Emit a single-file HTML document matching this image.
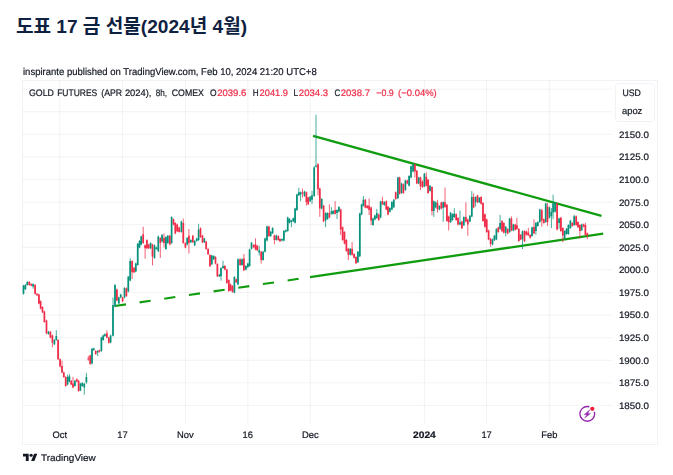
<!DOCTYPE html>
<html lang="ko">
<head>
<meta charset="utf-8">
<title>Gold Futures Chart</title>
<style>
html,body{margin:0;padding:0;background:#fff;}
body{width:673px;height:475px;overflow:hidden;position:relative;font-family:"Liberation Sans",sans-serif;color:#131722;}
.page{position:relative;width:673px;height:475px;overflow:hidden;background:#fff;}
h1{margin:0;padding:0;position:absolute;left:0;top:0;width:673px;height:50px;font-size:0;line-height:0;}
h1 svg{display:block;}
.frame{position:absolute;left:22px;top:80px;width:636px;height:365px;border:1px solid #f0f2f6;box-sizing:border-box;}
svg.chart{position:absolute;left:0;top:0;display:block;will-change:transform;}
.brand{position:absolute;left:22.6px;top:452.3px;height:12px;white-space:nowrap;}
.brand svg{position:absolute;left:0;top:0;}
</style>
</head>
<body>
<div class="page">
<h1><svg class="title" width="673" height="50" viewBox="0 0 673 50" role="img" aria-label="도표 17 금 선물(2024년 4월)"><title>도표 17 금 선물(2024년 4월)</title><text x="15.9" y="32.6" font-size="19.1" font-weight="700" fill="#0f2140" font-family="'Liberation Sans', 'Noto Sans CJK KR', sans-serif" textLength="231.2" lengthAdjust="spacingAndGlyphs">도표 17 금 선물(2024년 4월)</text></svg></h1>
<div class="frame"></div>
<svg class="chart" width="673" height="475" viewBox="0 0 673 475" font-family="'Liberation Sans', sans-serif" stroke-width="0.2" text-rendering="geometricPrecision"><path d="M22.5 89.17H612M22.5 111.76H612M22.5 134.35H612M22.5 156.94H612M22.5 179.53H612M22.5 202.12H612M22.5 224.71H612M22.5 247.3H612M22.5 269.89H612M22.5 292.48H612M22.5 315.07H612M22.5 337.66H612M22.5 360.25H612M22.5 382.84H612M22.5 405.43H612M59.75 80.5V423M122.45 80.5V423M185.4 80.5V423M247.8 80.5V423M310.35 80.5V423M424.4 80.5V423M486.6 80.5V423M549.3 80.5V423" stroke="rgba(40,44,52,0.06)" stroke-width="1" fill="none"/>
<path d="M313.1 135.9L601.5 215.8" stroke="#0f9d0f" stroke-width="2.3" stroke-linecap="butt" fill="none"/>
<path d="M310 277.11L603.2 233.7" stroke="#0f9d0f" stroke-width="2.3" fill="none"/>
<path d="M114.9 306L310 277.11" stroke="#0f9d0f" stroke-width="2.1" stroke-dasharray="11.2 13.74" fill="none"/>
<path d="M23.5 284.8V294.6M25.4 284.1V290.1M27.3 281.1V285.7M33.1 283.3V288.6M48.5 330.9V334.7M54.4 339.1V345.1M56.3 330.2V340.7M67.6 374.8V385.2M69.4 374V382.3M74.9 379.9V386.7M80.4 382.9V391.2M82.3 382.2V386.8M84.3 382.9V394.8M86.4 372.8V383.7M92 348V364.4M93.8 347.7V350.8M97.7 350.2V356M101.4 336.8V351.8M103.2 334.6V340.7M104.9 333.4V336.9M110.6 334.6V343.3M113 297.5V336.5M115 284.1V307.3M118.8 296.7V304.3M120.7 293.8V298.3M124.5 287.1V298.3M128.3 275.9V292.4M130.2 258.2V281.3M135.8 262.6V272.3M137.7 243V265.7M139.5 240.1V248.3M141.2 235.6V245.4M150.6 242.3V249.1M154.5 244.5V258.7M156.4 246.7V249.8M158.3 235.6V252.1M162.1 234.1V242.4M165.9 236.3V249.8M167.8 234.9V243.9M171.6 216.3V243.9M181.4 220.7V232.7M187.2 237.1V245.4M190.9 239.3V243.1M194.7 240.1V246.1M196.7 237.8V241.7M198.6 223.8V240.9M204.3 237.8V243.1M211.8 254.8V265M213.7 255.2V260.1M219.3 274V277.1M221 267.3V280.7M223 260.7V268.9M234.4 276.2V293.4M238 258.4V285.2M242 258.4V265.9M245.9 265.1V270.4M247.8 262.8V268.1M249.6 248.7V266.7M251.5 242V249.6M259.2 245.8V255.5M263.1 250.9V260.7M265 237.6V252.5M267 225.7V241.4M270.7 230.9V236.9M272.6 227.2V234M276.3 234.6V240.7M282 238.3V241.4M283.9 230.1V241.4M285.8 229.4V232.5M287.7 216.7V231.7M289.5 218.2V223.5M291.4 219.7V227.2M293.3 217.5V222.1M295.1 207.8V223.5M296.9 193.7V210.9M298.8 187.8V196.1M300.6 191.5V201.2M304.5 190.7V196.8M310.1 195.9V202M312 190.8V204.2M314.2 166.1V196.8M316 114.7V167.6M321.7 198.2V209.4M325.6 212.3V227.2M327.5 212.3V219.8M331.4 207.1V214.6M333.1 210.1V214.6M337 209.3V219M338.9 206.3V212.4M350.2 248V255.6M357.9 251V263M359.8 212.7V257.1M361.6 203.7V215.3M363.4 196V206.5M373 217.6V225.9M374.9 214.6V220.3M376.8 209V218.8M380.6 200.7V218.3M384.3 201.2V205.8M389.9 207.2V212.5M391.9 201.2V210.2M393.8 199V208M397.9 176.7V199.1M401.5 182.6V193.9M405.4 179.7V190.9M409.1 175.2V186.5M411 165.5V178.3M413 163.6V172.3M418.7 176.7V184.2M424.4 173V187.2M430 184.9V191.7M433.8 200.5V216.9M435.7 201.4V208.3M439.4 205.1V210.3M443.2 201.4V221.8M450.6 211.9V223.1M452.5 213.4V220.9M454.3 208.2V217.9M460 210.5V225.4M463.8 216.3V226.1M469.9 214.9V222.4M471.8 191.1V217.2M475.6 196.3V206.7M479.3 197V203.1M492.5 238.6V245.4M494.4 234.9V241M496.4 228.2V240.2M500.1 214.9V229.8M505.7 226V236.5M509.6 217.8V232.8M513.3 223.8V231.3M522.5 230.4V249M532 226.6V236.8M535.9 222.1V234.8M537.8 221.3V226.7M539.8 208.7V222.9M545.7 202.8V222.9M549.4 206.5V218.5M551.4 208V228.1M553.1 194.7V219.2M555.1 202V212.5M559.1 217.6V228.8M564.6 230.3V239.3M566.5 228V234.8M568.4 224.3V234.8M570.4 219.9V228.9M574.2 214.7V225.9M581.7 223.6V231.1" stroke="#07917b" stroke-width="0.75" fill="none"/>
<path d="M29.3 281.1V285.7M31.2 283.3V286.4M35.1 284.1V294.6M37 293V296.1M38.9 293.7V304.2M40.6 300.4V309.4M42.5 306.3V313.1M44.4 310.8V322.8M46.5 319.7V334.3M50.4 330.9V338.4M52.4 334.6V347.3M58.1 339.1V360M60.1 358.4V367.4M62 360.7V373.3M63.8 371.7V377.8M65.7 376.2V386.7M71.2 379.9V385.2M73 376.8V388.2M76.8 378.4V382.3M78.6 379.9V391.9M88.3 355.8V360.8M90.2 354.7V364.7M95.7 350.2V354.8M99.4 349.5V352.5M106.9 330.2V338.4M108.8 336.8V343.6M116.9 288.6V301.3M122.6 296.7V302.1M126.4 287.5V296.9M132.1 260.3V279M134 267V273.1M143.2 226.7V243.9M145.1 244.5V258.7M146.9 239.3V249.1M148.7 243.8V249.1M152.5 243.8V265.4M160.3 237.1V257.9M164 233.4V247.5M169.8 234.9V245.4M173.5 218.5V225.3M175.3 222.2V234.2M177.2 223.7V232M179.1 226.7V232.7M183.3 218.6V243.8M185.4 242.3V248.3M188.9 229V253.5M192.8 234.9V243.1M200.5 227.4V237.9M202.5 234.9V243.1M206.2 240.8V249.8M208.1 248.2V255M210 254.2V267.1M215.5 256.2V264.3M217.4 263.2V277.1M224.9 265.1V270.4M226.8 268.8V283.8M228.8 279.2V291.9M230.6 283.6V291.2M232.5 285.1V292.7M236.2 278.4V283M240.1 258.4V265.9M243.9 254V271.1M253.6 244.2V248.1M255.5 238.4V250.3M257.3 245V251.1M261.2 250.9V263.6M268.9 225.7V236.9M274.4 234.6V244.3M278.3 235.3V240.7M280 238.3V242.1M302.5 188.6V197.5M306.4 191.5V205.7M308.2 196.7V205M318 163.2V195.3M319.8 187.8V216.8M323.6 204.9V222.1M329.4 204.2V218.3M335.1 201.2V214.6M340.7 208.6V235M342.6 226.5V240.8M344.5 231.2V244.4M346.4 239.1V251.9M348.3 248V260M352.1 242.1V255.6M354.1 253.2V258.5M356 256.2V264M365.3 198.9V208.3M367.2 204.9V208.7M369.1 198.5V215M371.1 206.7V225.1M378.7 213.7V220.8M382.4 196.8V205M386.3 200.5V210.2M388 206V215.4M395.7 191.5V199.8M399.6 176.7V194.6M403.4 183.4V193.9M407.3 179.7V184.2M414.9 163.7V177.5M416.8 170V184.2M420.5 176.7V190.1M422.5 180.4V187.9M426.3 172.3V186.5M428.1 178.9V193.9M432 186.3V215.4M437.5 199.8V212.5M441.3 201.7V209.2M445 187.6V207.8M446.9 203.9V221.8M448.7 215.6V230.5M456.2 213.4V220.9M458 217.1V225.4M461.9 220.8V229.1M465.9 202.3V222.4M467.8 218.6V235.7M473.6 193.4V208.3M477.5 194.8V203.1M481.1 196.3V204.6M483 202.2V221.7M484.9 213.4V227.6M486.7 218.6V232.8M488.6 229.7V240.2M490.6 237.9V246.9M498.3 226.7V232.8M502 220.1V232.1M503.8 222.3V233.5M507.7 228.2V234.3M511.4 216.4V231.3M515.2 223.8V230.6M516.9 217.9V229.8M518.8 228.2V241.7M520.7 234V240.2M524.5 230.3V242M526.4 230.7V235.6M528.3 227.8V236M530.2 234.1V238.6M534 219.3V234.2M541.8 208.8V226.6M543.8 218.4V223.7M547.5 202.8V225.9M557.1 202.8V230.4M560.9 216.9V231.9M562.8 227.3V242.2M572.3 222.1V226.7M576.2 215.4V225.9M578 221.3V228.1M579.9 224.3V238.5M583.6 223.6V227.4M585.4 222.9V235.6M587.3 232.5V239.2" stroke="#ef2b47" stroke-width="0.75" fill="none"/>
<path d="M22.65 285.6h1.7V293.8h-1.7zM24.55 284.9h1.7V289.3h-1.7zM26.45 281.9h1.7V284.9h-1.7zM32.25 284.1h1.7V286.5h-1.7zM47.65 331.7h1.7V333.9h-1.7zM53.55 339.9h1.7V344.3h-1.7zM55.45 336.1h1.7V339.9h-1.7zM66.75 377h1.7V384.4h-1.7zM68.55 376.3h1.7V381.5h-1.7zM74.05 380.7h1.7V385.9h-1.7zM79.55 383.7h1.7V390.4h-1.7zM81.45 383h1.7V386h-1.7zM83.45 383.7h1.7V387.4h-1.7zM85.55 377h1.7V382.2h-1.7zM91.15 348.8h1.7V363.6h-1.7zM92.95 348.5h1.7V350h-1.7zM96.85 351h1.7V352.5h-1.7zM100.55 337.6h1.7V351h-1.7zM102.35 335.4h1.7V339.9h-1.7zM104.05 334.2h1.7V336.1h-1.7zM109.75 335.4h1.7V342.5h-1.7zM112.15 305h1.7V335.7h-1.7zM114.15 284.9h1.7V306.5h-1.7zM117.95 297.5h1.7V303.5h-1.7zM119.85 294.6h1.7V297.5h-1.7zM123.65 287.9h1.7V297.5h-1.7zM127.45 276.7h1.7V291.6h-1.7zM129.35 261.1h1.7V280.5h-1.7zM134.95 263.4h1.7V271.5h-1.7zM136.85 243.8h1.7V264.9h-1.7zM138.65 240.9h1.7V247.5h-1.7zM140.35 236.4h1.7V244.6h-1.7zM149.75 243.1h1.7V248.3h-1.7zM153.65 245.3h1.7V257.9h-1.7zM155.55 247.5h1.7V249h-1.7zM157.45 236.4h1.7V251.3h-1.7zM161.25 234.9h1.7V241.6h-1.7zM165.05 237.1h1.7V249h-1.7zM166.95 235.7h1.7V243.1h-1.7zM170.75 217.1h1.7V243.1h-1.7zM180.55 221.5h1.7V231.9h-1.7zM186.35 237.9h1.7V244.6h-1.7zM190.05 240.1h1.7V242.3h-1.7zM193.85 240.9h1.7V245.3h-1.7zM195.85 238.6h1.7V240.9h-1.7zM197.75 229.7h1.7V240.1h-1.7zM203.45 238.6h1.7V242.3h-1.7zM210.95 255.6h1.7V264.2h-1.7zM212.85 256h1.7V259.3h-1.7zM218.45 274.8h1.7V276.3h-1.7zM220.15 268.1h1.7V276.3h-1.7zM222.15 265.9h1.7V268.1h-1.7zM233.55 277h1.7V292.6h-1.7zM237.15 259.2h1.7V284.4h-1.7zM241.15 259.2h1.7V265.1h-1.7zM245.05 265.9h1.7V269.6h-1.7zM246.95 263.6h1.7V267.3h-1.7zM248.75 249.5h1.7V265.9h-1.7zM250.65 242.8h1.7V248.8h-1.7zM258.35 250.3h1.7V252.5h-1.7zM262.25 251.7h1.7V259.9h-1.7zM264.15 238.4h1.7V251.7h-1.7zM266.15 226.5h1.7V240.6h-1.7zM269.85 231.7h1.7V236.1h-1.7zM271.75 228h1.7V233.2h-1.7zM275.45 235.4h1.7V239.9h-1.7zM281.15 239.1h1.7V240.6h-1.7zM283.05 230.9h1.7V240.6h-1.7zM284.95 230.2h1.7V231.7h-1.7zM286.85 217.5h1.7V230.9h-1.7zM288.65 219h1.7V222.7h-1.7zM290.55 220.5h1.7V222h-1.7zM292.45 218.3h1.7V221.3h-1.7zM294.25 208.6h1.7V222.7h-1.7zM296.05 194.5h1.7V210.1h-1.7zM297.95 192.3h1.7V195.3h-1.7zM299.75 192.3h1.7V194.5h-1.7zM303.65 191.5h1.7V196h-1.7zM309.25 196.7h1.7V201.2h-1.7zM311.15 195.3h1.7V199.7h-1.7zM313.35 167.5h1.7V196h-1.7zM315.15 165.6h1.7V166.8h-1.7zM320.85 199h1.7V208.6h-1.7zM324.75 213.1h1.7V220.5h-1.7zM326.65 213.1h1.7V219h-1.7zM330.55 211.6h1.7V213.8h-1.7zM332.25 210.9h1.7V213.8h-1.7zM336.15 210.1h1.7V213.1h-1.7zM338.05 207.1h1.7V211.6h-1.7zM349.35 248.8h1.7V254.8h-1.7zM357.05 251.8h1.7V262.2h-1.7zM358.95 213.5h1.7V256.3h-1.7zM360.75 204.5h1.7V214.5h-1.7zM362.55 199.7h1.7V205.7h-1.7zM372.15 218.4h1.7V225.1h-1.7zM374.05 215.4h1.7V219.5h-1.7zM375.95 213h1.7V218h-1.7zM379.75 201.5h1.7V217.5h-1.7zM383.45 202h1.7V205h-1.7zM389.05 208h1.7V211.7h-1.7zM391.05 202h1.7V209.4h-1.7zM392.95 199.8h1.7V207.2h-1.7zM397.05 177.5h1.7V198.3h-1.7zM400.65 183.4h1.7V193.1h-1.7zM404.55 180.5h1.7V190.1h-1.7zM408.25 176h1.7V185.7h-1.7zM410.15 166.3h1.7V177.5h-1.7zM412.15 164h1.7V171.5h-1.7zM417.85 177.5h1.7V183.4h-1.7zM423.55 173.8h1.7V186.4h-1.7zM429.15 185.7h1.7V190.9h-1.7zM432.95 201.3h1.7V210.9h-1.7zM434.85 202.2h1.7V207.5h-1.7zM438.55 205.9h1.7V209.5h-1.7zM442.35 202.2h1.7V208h-1.7zM449.75 212.7h1.7V222.3h-1.7zM451.65 214.2h1.7V220.1h-1.7zM453.45 213.4h1.7V217.1h-1.7zM459.15 222.3h1.7V224.6h-1.7zM462.95 217.1h1.7V225.3h-1.7zM469.05 215.7h1.7V221.6h-1.7zM470.95 197.1h1.7V216.4h-1.7zM474.75 197.1h1.7V202.3h-1.7zM478.45 197.8h1.7V202.3h-1.7zM491.65 239.4h1.7V244.6h-1.7zM493.55 235.7h1.7V240.2h-1.7zM495.55 229h1.7V239.4h-1.7zM499.25 223.1h1.7V229h-1.7zM504.85 226.8h1.7V232.7h-1.7zM508.75 218.6h1.7V232h-1.7zM512.45 224.6h1.7V230.5h-1.7zM521.65 231.2h1.7V239.3h-1.7zM531.15 227.4h1.7V236h-1.7zM535.05 222.9h1.7V231.1h-1.7zM536.95 222.1h1.7V225.9h-1.7zM538.95 209.5h1.7V222.1h-1.7zM544.85 203.6h1.7V222.1h-1.7zM548.55 207.3h1.7V217.7h-1.7zM550.55 211.7h1.7V216.2h-1.7zM552.25 203.6h1.7V212.5h-1.7zM554.25 202.8h1.7V211.7h-1.7zM558.25 218.4h1.7V222.9h-1.7zM563.75 231.1h1.7V238.5h-1.7zM565.65 228.8h1.7V234h-1.7zM567.55 225.1h1.7V234h-1.7zM569.55 220.7h1.7V228.1h-1.7zM573.35 216.2h1.7V225.1h-1.7zM580.85 224.4h1.7V230.3h-1.7z" fill="#07917b"/>
<path d="M28.45 281.9h1.7V284.9h-1.7zM30.35 284.1h1.7V285.6h-1.7zM34.25 284.9h1.7V293.8h-1.7zM36.15 293.8h1.7V295.3h-1.7zM38.05 294.5h1.7V303.4h-1.7zM39.75 301.2h1.7V308.6h-1.7zM41.65 307.1h1.7V312.3h-1.7zM43.55 311.6h1.7V322h-1.7zM45.65 320.5h1.7V333.5h-1.7zM49.55 331.7h1.7V337.6h-1.7zM51.55 335.4h1.7V342.8h-1.7zM57.25 339.9h1.7V359.2h-1.7zM59.25 359.2h1.7V366.6h-1.7zM61.15 366h1.7V372.5h-1.7zM62.95 372.5h1.7V377h-1.7zM64.85 377h1.7V385.9h-1.7zM70.35 380.7h1.7V384.4h-1.7zM72.15 383.5h1.7V387.4h-1.7zM75.95 379.2h1.7V381.5h-1.7zM77.75 380.7h1.7V391.1h-1.7zM87.45 358.5h1.7V359.6h-1.7zM89.35 355.5h1.7V363.9h-1.7zM94.85 351h1.7V354h-1.7zM98.55 350.3h1.7V351.7h-1.7zM106.05 333.2h1.7V337.6h-1.7zM107.95 337.6h1.7V342.8h-1.7zM116.05 289.4h1.7V300.5h-1.7zM121.75 297.5h1.7V301.3h-1.7zM125.55 288.3h1.7V296.1h-1.7zM131.25 261.1h1.7V272.3h-1.7zM133.15 267.8h1.7V272.3h-1.7zM142.35 234.2h1.7V243.1h-1.7zM144.25 245.3h1.7V248.3h-1.7zM146.05 240.1h1.7V248.3h-1.7zM147.85 244.6h1.7V248.3h-1.7zM151.65 244.6h1.7V256.5h-1.7zM159.45 237.9h1.7V243.1h-1.7zM163.15 237.9h1.7V243.1h-1.7zM168.95 235.7h1.7V244.6h-1.7zM172.65 219.3h1.7V224.5h-1.7zM174.45 223h1.7V233.4h-1.7zM176.35 224.5h1.7V231.2h-1.7zM178.25 227.5h1.7V231.9h-1.7zM182.45 223h1.7V243h-1.7zM184.55 243.1h1.7V247.5h-1.7zM188.05 235.7h1.7V243.1h-1.7zM191.95 235.7h1.7V242.3h-1.7zM199.65 228.2h1.7V237.1h-1.7zM201.65 235.7h1.7V242.3h-1.7zM205.35 241.6h1.7V249h-1.7zM207.25 249h1.7V254.2h-1.7zM209.15 255h1.7V266.3h-1.7zM214.65 257h1.7V263.5h-1.7zM216.55 264h1.7V276.3h-1.7zM224.05 265.9h1.7V269.6h-1.7zM225.95 269.6h1.7V283h-1.7zM227.95 280h1.7V291.1h-1.7zM229.75 284.4h1.7V290.4h-1.7zM231.65 285.9h1.7V291.9h-1.7zM235.35 279.2h1.7V282.2h-1.7zM239.25 259.2h1.7V265.1h-1.7zM243.05 258.4h1.7V270.3h-1.7zM252.75 245h1.7V247.3h-1.7zM254.65 244.3h1.7V249.5h-1.7zM256.45 245.8h1.7V250.3h-1.7zM260.35 251.7h1.7V259.9h-1.7zM268.05 226.5h1.7V236.1h-1.7zM273.55 235.4h1.7V239.9h-1.7zM277.45 236.1h1.7V239.9h-1.7zM279.15 239.1h1.7V241.3h-1.7zM301.65 192.3h1.7V193.8h-1.7zM305.55 192.3h1.7V201.9h-1.7zM307.35 197.5h1.7V204.2h-1.7zM317.15 164.3h1.7V189.3h-1.7zM318.95 188.6h1.7V208.6h-1.7zM322.75 205.7h1.7V221.3h-1.7zM328.55 213.1h1.7V217.5h-1.7zM334.25 210.1h1.7V213.8h-1.7zM339.85 209.4h1.7V229.5h-1.7zM341.75 227.3h1.7V240h-1.7zM343.65 232h1.7V243.6h-1.7zM345.55 239.9h1.7V251.1h-1.7zM347.45 248.8h1.7V254.8h-1.7zM351.25 248.8h1.7V254.8h-1.7zM353.25 254h1.7V257.7h-1.7zM355.15 257h1.7V263.2h-1.7zM364.45 199.7h1.7V207.5h-1.7zM366.35 205.7h1.7V207.9h-1.7zM368.25 205.7h1.7V210.1h-1.7zM370.25 207.5h1.7V220.5h-1.7zM377.85 214.5h1.7V220h-1.7zM381.55 201.3h1.7V204.2h-1.7zM385.45 201.3h1.7V209.4h-1.7zM387.15 206.8h1.7V214.6h-1.7zM394.85 192.3h1.7V199h-1.7zM398.75 177.5h1.7V193.8h-1.7zM402.55 184.2h1.7V193.1h-1.7zM406.45 180.5h1.7V183.4h-1.7zM414.05 164.3h1.7V171.5h-1.7zM415.95 170.8h1.7V183.4h-1.7zM419.65 177.5h1.7V186.4h-1.7zM421.65 181.2h1.7V187.1h-1.7zM425.45 176.7h1.7V185.7h-1.7zM427.25 179.7h1.7V193.1h-1.7zM431.15 187.1h1.7V210.9h-1.7zM436.65 203h1.7V209.2h-1.7zM440.45 202.5h1.7V208.4h-1.7zM444.15 202.2h1.7V207h-1.7zM446.05 204.7h1.7V221h-1.7zM447.85 216.4h1.7V222.3h-1.7zM455.35 214.2h1.7V220.1h-1.7zM457.15 217.9h1.7V224.6h-1.7zM461.05 221.6h1.7V228.3h-1.7zM465.05 217.1h1.7V221.6h-1.7zM466.95 219.4h1.7V224.6h-1.7zM472.75 197.1h1.7V207.5h-1.7zM476.65 195.6h1.7V202.3h-1.7zM480.25 197.1h1.7V203.8h-1.7zM482.15 203h1.7V220.9h-1.7zM484.05 214.2h1.7V226.8h-1.7zM485.85 219.4h1.7V232h-1.7zM487.75 230.5h1.7V239.4h-1.7zM489.75 238.7h1.7V243.9h-1.7zM497.45 227.5h1.7V232h-1.7zM501.15 220.9h1.7V231.3h-1.7zM502.95 223.1h1.7V232.7h-1.7zM506.85 229h1.7V233.5h-1.7zM510.55 218.6h1.7V230.5h-1.7zM514.35 224.6h1.7V229.8h-1.7zM516.05 225.3h1.7V229h-1.7zM517.95 229h1.7V240.9h-1.7zM519.85 234.8h1.7V239.4h-1.7zM523.65 231.1h1.7V241.2h-1.7zM525.55 231.5h1.7V234.8h-1.7zM527.45 232.6h1.7V235.2h-1.7zM529.35 234.9h1.7V237.8h-1.7zM533.15 227h1.7V233.4h-1.7zM540.95 210.3h1.7V220.7h-1.7zM542.95 219.2h1.7V222.9h-1.7zM546.65 206.5h1.7V222.1h-1.7zM556.25 203.6h1.7V229.6h-1.7zM560.05 217.7h1.7V231.1h-1.7zM561.95 228.1h1.7V235.5h-1.7zM571.45 222.9h1.7V225.9h-1.7zM575.35 216.2h1.7V225.1h-1.7zM577.15 222.1h1.7V227.3h-1.7zM579.05 225.1h1.7V231.1h-1.7zM582.75 224.4h1.7V226.6h-1.7zM584.55 225.1h1.7V234.8h-1.7zM586.45 233.3h1.7V235.5h-1.7z" fill="#ef2b47"/>
<text x="23" y="74.9" font-size="9.9" fill="#131722" stroke="#131722" textLength="293.7" lengthAdjust="spacingAndGlyphs">inspirante published on TradingView.com, Feb 10, 2024 21:20 UTC+8</text>
<text x="41" y="461.05" font-size="9.5" fill="#131722" stroke="#131722" textLength="54.8" lengthAdjust="spacingAndGlyphs">TradingView</text>
<text x="29" y="95.7" font-size="9.4" fill="#131722" stroke="#131722" textLength="24.9" lengthAdjust="spacingAndGlyphs">GOLD</text>
<text x="57.2" y="95.7" font-size="9.4" fill="#131722" stroke="#131722" textLength="40.1" lengthAdjust="spacingAndGlyphs">FUTURES</text>
<text x="101.3" y="95.7" font-size="9.4" fill="#131722" stroke="#131722" textLength="20.9" lengthAdjust="spacingAndGlyphs">(APR</text>
<text x="124.9" y="95.7" font-size="9.4" fill="#131722" stroke="#131722" textLength="26.6" lengthAdjust="spacingAndGlyphs">2024),</text>
<text x="155.7" y="95.7" font-size="9.4" fill="#131722" stroke="#131722" textLength="11.3" lengthAdjust="spacingAndGlyphs">8h,</text>
<text x="171.8" y="95.7" font-size="9.4" fill="#131722" stroke="#131722" textLength="32.1" lengthAdjust="spacingAndGlyphs">COMEX</text>
<text x="209.9" y="95.7" font-size="9.4" fill="#131722" stroke="#131722" textLength="6.6" lengthAdjust="spacingAndGlyphs">O</text>
<text x="217.2" y="95.7" font-size="9.4" fill="#ef2b47" stroke="#ef2b47" textLength="29.2" lengthAdjust="spacingAndGlyphs">2039.6</text>
<text x="252.8" y="95.7" font-size="9.4" fill="#131722" stroke="#131722" textLength="5.9" lengthAdjust="spacingAndGlyphs">H</text>
<text x="259.6" y="95.7" font-size="9.4" fill="#ef2b47" stroke="#ef2b47" textLength="28.4" lengthAdjust="spacingAndGlyphs">2041.9</text>
<text x="293.5" y="95.7" font-size="9.4" fill="#131722" stroke="#131722" textLength="4.6" lengthAdjust="spacingAndGlyphs">L</text>
<text x="298.8" y="95.7" font-size="9.4" fill="#ef2b47" stroke="#ef2b47" textLength="29.4" lengthAdjust="spacingAndGlyphs">2034.3</text>
<text x="334.4" y="95.7" font-size="9.4" fill="#131722" stroke="#131722" textLength="5.7" lengthAdjust="spacingAndGlyphs">C</text>
<text x="340.7" y="95.7" font-size="9.4" fill="#ef2b47" stroke="#ef2b47" textLength="29.4" lengthAdjust="spacingAndGlyphs">2038.7</text>
<text x="376.3" y="95.7" font-size="9.4" fill="#ef2b47" stroke="#ef2b47" textLength="17.5" lengthAdjust="spacingAndGlyphs">−0.9</text>
<text x="398.1" y="95.7" font-size="9.4" fill="#ef2b47" stroke="#ef2b47" textLength="38.6" lengthAdjust="spacingAndGlyphs">(−0.04%)</text>
<text x="618.9" y="137.75" font-size="9.4" fill="#131722" stroke="#131722" textLength="30" lengthAdjust="spacingAndGlyphs">2150.0</text>
<text x="618.9" y="160.34" font-size="9.4" fill="#131722" stroke="#131722" textLength="30" lengthAdjust="spacingAndGlyphs">2125.0</text>
<text x="618.9" y="182.93" font-size="9.4" fill="#131722" stroke="#131722" textLength="30" lengthAdjust="spacingAndGlyphs">2100.0</text>
<text x="618.9" y="205.52" font-size="9.4" fill="#131722" stroke="#131722" textLength="30" lengthAdjust="spacingAndGlyphs">2075.0</text>
<text x="618.9" y="228.11" font-size="9.4" fill="#131722" stroke="#131722" textLength="30" lengthAdjust="spacingAndGlyphs">2050.0</text>
<text x="618.9" y="250.7" font-size="9.4" fill="#131722" stroke="#131722" textLength="30" lengthAdjust="spacingAndGlyphs">2025.0</text>
<text x="618.9" y="273.29" font-size="9.4" fill="#131722" stroke="#131722" textLength="30" lengthAdjust="spacingAndGlyphs">2000.0</text>
<text x="618.9" y="295.88" font-size="9.4" fill="#131722" stroke="#131722" textLength="30" lengthAdjust="spacingAndGlyphs">1975.0</text>
<text x="618.9" y="318.47" font-size="9.4" fill="#131722" stroke="#131722" textLength="30" lengthAdjust="spacingAndGlyphs">1950.0</text>
<text x="618.9" y="341.06" font-size="9.4" fill="#131722" stroke="#131722" textLength="30" lengthAdjust="spacingAndGlyphs">1925.0</text>
<text x="618.9" y="363.65" font-size="9.4" fill="#131722" stroke="#131722" textLength="30" lengthAdjust="spacingAndGlyphs">1900.0</text>
<text x="618.9" y="386.24" font-size="9.4" fill="#131722" stroke="#131722" textLength="30" lengthAdjust="spacingAndGlyphs">1875.0</text>
<text x="618.9" y="408.83" font-size="9.4" fill="#131722" stroke="#131722" textLength="30" lengthAdjust="spacingAndGlyphs">1850.0</text>
<rect x="615.5" y="83.5" width="39" height="38" rx="3" ry="3" fill="#fff" stroke="#f0f2f6" stroke-width="1"/>
<text x="622.5" y="95.75" font-size="9.4" fill="#131722" stroke="#131722" textLength="18.4" lengthAdjust="spacingAndGlyphs">USD</text>
<text x="622" y="114.1" font-size="9.4" fill="#131722" stroke="#131722" textLength="20.3" lengthAdjust="spacingAndGlyphs">apoz</text>
<text x="59.75" y="437.9" font-size="9.4" fill="#131722" stroke="#131722" text-anchor="middle">Oct</text>
<text x="122.45" y="437.9" font-size="9.4" fill="#131722" stroke="#131722" text-anchor="middle">17</text>
<text x="185.4" y="437.9" font-size="9.4" fill="#131722" stroke="#131722" text-anchor="middle">Nov</text>
<text x="247.8" y="437.9" font-size="9.4" fill="#131722" stroke="#131722" text-anchor="middle">16</text>
<text x="310.35" y="437.9" font-size="9.4" fill="#131722" stroke="#131722" text-anchor="middle">Dec</text>
<text x="424.4" y="437.9" font-size="9.4" fill="#131722" stroke="#131722" textLength="22.8" lengthAdjust="spacingAndGlyphs" text-anchor="middle" font-weight="700">2024</text>
<text x="486.6" y="437.9" font-size="9.4" fill="#131722" stroke="#131722" text-anchor="middle">17</text>
<text x="549.3" y="437.9" font-size="9.4" fill="#131722" stroke="#131722" text-anchor="middle">Feb</text>
<g transform="translate(587.3 413.85)"><circle r="7.4" fill="none" stroke="#9528ad" stroke-width="1.35"/><circle cx="5.0" cy="-5.0" r="3.5" fill="#fff"/><circle cx="5.0" cy="-5.05" r="2.15" fill="#ee1f3e"/><path d="M2.5 -4.1L-3.2 0.8H-0.5L-2.7 4.3L3.2 -0.4H0.5Z" fill="#9528ad" stroke="#9528ad" stroke-width="0.35" stroke-linejoin="round"/></g></svg>
<div class="brand"><svg viewBox="0 0 36 28" width="14.6" height="11.36"><path d="M14 22H7V11H0V4h14v18zM28 22h-8l7.5-18h8L28 22z" fill="#131722"/><circle cx="20" cy="8" r="4" fill="#131722"/></svg></div>
</div>
</body>
</html>
